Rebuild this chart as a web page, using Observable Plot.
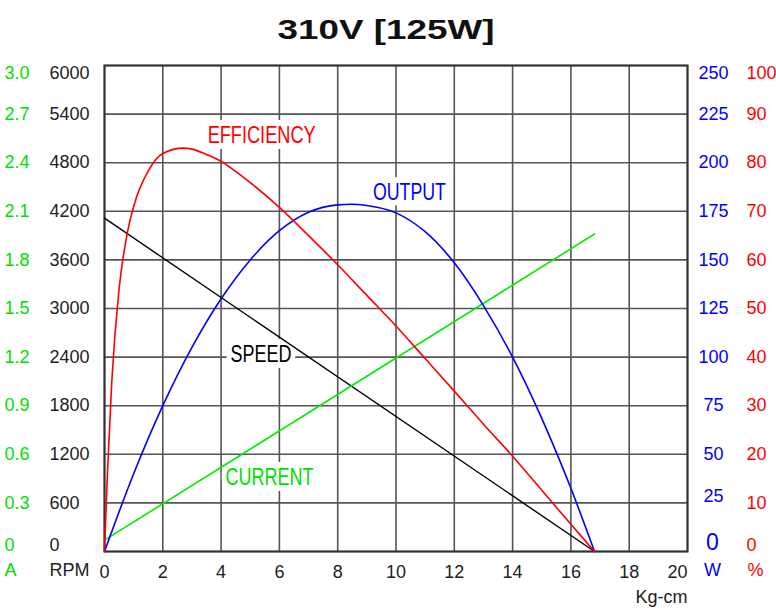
<!DOCTYPE html>
<html><head><meta charset="utf-8">
<script src="https://cdn.jsdelivr.net/npm/d3@7"></script>
<script src="https://cdn.jsdelivr.net/npm/@observablehq/plot@0.6"></script>
<style>body{margin:0;background:#fff} svg{display:block}</style>
</head><body><div id="chart"></div>
<script>
// ---- data ----
const title = "310V [125W]";
const torqueTicks = [0, 2, 4, 6, 8, 10, 12, 14, 16, 18, 20];
const rpmTicks = [0, 600, 1200, 1800, 2400, 3000, 3600, 4200, 4800, 5400, 6000];
const ampTicks = [0, 0.3, 0.6, 0.9, 1.2, 1.5, 1.8, 2.1, 2.4, 2.7, 3.0];
const wattTicks = [0, 25, 50, 75, 100, 125, 150, 175, 200, 225, 250];
const pctTicks = [0, 10, 20, 30, 40, 50, 60, 70, 80, 90, 100];

const speedTorque = [0, 16.81];
const speedRPM = [4115, 0];
const currentTorque = [0, 16.81];
const currentA = [0.07, 1.96];
const effTorque = [0, 0.1, 0.25, 0.5, 0.75, 1, 1.5, 2, 2.7, 3, 3.5, 4, 4.5, 5, 6, 7, 8, 9, 10, 11, 12, 13, 14, 15, 16, 16.81];
const effPct =    [0, 16,  35,   54,  64.5, 71, 78.3, 81.9, 83, 82.8, 81.7, 80.3, 78.2, 75.9, 70.8, 65.0, 59.0, 52.7, 46.4, 39.7, 33.0, 26.2, 19.6, 12.6, 5.6, 0];
const outTorque = [0, 1, 2, 3, 4, 5, 6, 7, 8, 8.45, 9, 10, 11, 12, 13, 14, 15, 16, 16.81];
const outW =      [0, 40, 75, 105, 130, 150, 165, 174.5, 178.3, 178.6, 178, 174.2, 164.5, 148.5, 126.5, 100, 68.5, 32.5, 0];

const labelText = ["EFFICIENCY", "OUTPUT", "SPEED", "CURRENT"];
const labelTorque = [5.39, 10.46, 5.37, 5.66];
const labelValue = [85.6, 184.7, 2432, 0.457]; // in each curve's own unit

// ---- unit conversions onto the RPM (0–6000) plotting scale ----
const fromA = a => a * 6000 / 3;
const fromW = w => w * 6000 / 250;
const fromPct = p => p * 6000 / 100;

const RED = "#ff0000", BLUE = "#0000ff", GREEN = "#00e000", GREENLINE = "#00ee00", INK = "#222";
const FONT = "Liberation Sans, Arial, Helvetica, sans-serif";

const zip = (xs, ys, f) => xs.map((x, i) => ({x, y: f(ys[i])}));
const speedData = zip(speedTorque, speedRPM, d => d);
const currentData = zip(currentTorque, currentA, fromA);
const effData = zip(effTorque, effPct, fromPct);
const outData = zip(outTorque, outW, fromW);

const labelColors = [RED, BLUE, "#000", GREEN];
const labelConv = [fromPct, fromW, d => d, fromA];
const labels = labelText.map((t, i) => ({text: t, x: labelTorque[i], y: labelConv[i](labelValue[i]), color: labelColors[i]}));

// tick label helper: ends are kept inside the frame
function tickText(values, conv, fmt, opts) {
  const max = d3.max(values), min = d3.min(values);
  const base = {y: d => conv(d), text: fmt, fontSize: 18, fontFamily: FONT, ...opts};
  return [
    Plot.text(values.filter(v => v !== max && v !== min), {...base, lineAnchor: "middle"}),
    Plot.text([max], {...base, lineAnchor: "top", dy: 1}),
    Plot.text([min], {...base, lineAnchor: "bottom", dy: -1})
  ];
}

const svg = Plot.plot({
  width: 776,
  height: 611,
  marginLeft: 104,
  marginRight: 89,
  marginTop: 65,
  marginBottom: 60,
  style: {background: "#fff", overflow: "visible"},
  x: {domain: [0, 20], axis: null},
  y: {domain: [0, 6000], axis: null},
  marks: [
    Plot.ruleX(torqueTicks, {x: d => d, stroke: "#555", strokeWidth: 1.6}),
    Plot.ruleY(rpmTicks, {y: d => d, stroke: "#555", strokeWidth: 1.6}),
    Plot.frame({stroke: "#333", strokeWidth: 2}),
    // curve labels with white backing
    Plot.text(labels, {x: "x", y: "y", text: "text", fill: "color", stroke: "white", strokeWidth: 12,
      fontSize: 23, fontFamily: FONT}),
    // curves
    Plot.line(speedData, {x: "x", y: "y", stroke: "#000", strokeWidth: 1.4}),
    Plot.line(currentData, {x: "x", y: "y", stroke: GREENLINE, strokeWidth: 1.6}),
    Plot.line(outData, {x: "x", y: "y", stroke: BLUE, strokeWidth: 1.6, curve: "monotone-x"}),
    Plot.line(effData, {x: "x", y: "y", stroke: RED, strokeWidth: 1.6, curve: "monotone-x"}),
    // left axes
    ...tickText(ampTicks, fromA, d => d === 0 ? "0" : d.toFixed(1), {frameAnchor: "left", dx: -100, textAnchor: "start", fill: GREEN}),
    ...tickText(rpmTicks, d => d, d => String(d), {frameAnchor: "left", dx: -55, textAnchor: "start", fill: INK}),
    // right axes
    ...tickText(wattTicks.filter(d => d !== 0), fromW, d => String(d), {frameAnchor: "right", dx: 26, textAnchor: "middle", fill: BLUE}),
    Plot.text([0], {y: d => fromW(d), text: d => String(d), frameAnchor: "right", dx: 25, dy: -2, textAnchor: "middle",
      lineAnchor: "bottom", fill: BLUE, fontSize: 23, fontFamily: FONT}),
    ...tickText(pctTicks, fromPct, d => String(d), {frameAnchor: "right", dx: 59, textAnchor: "start", fill: RED}),
    // x tick labels
    Plot.text(torqueTicks.filter(d => d !== 20), {x: d => d, text: d => String(d), frameAnchor: "bottom", dy: 21,
      lineAnchor: "middle", fontSize: 18, fontFamily: FONT, fill: INK}),
    Plot.text([20], {x: d => d, text: d => String(d), frameAnchor: "bottom", dy: 21, textAnchor: "end",
      lineAnchor: "middle", fontSize: 18, fontFamily: FONT, fill: INK}),
    // unit labels
    Plot.text(["A"], {text: d => d, frameAnchor: "bottom-left", dx: -100, dy: 19, textAnchor: "start", lineAnchor: "middle", fontSize: 18, fontFamily: FONT, fill: GREEN}),
    Plot.text(["RPM"], {text: d => d, frameAnchor: "bottom-left", dx: -55, dy: 19, textAnchor: "start", lineAnchor: "middle", fontSize: 18, fontFamily: FONT, fill: INK}),
    Plot.text(["W"], {text: d => d, frameAnchor: "bottom-right", dx: 25, dy: 19, textAnchor: "middle", lineAnchor: "middle", fontSize: 18, fontFamily: FONT, fill: BLUE}),
    Plot.text(["%"], {text: d => d, frameAnchor: "bottom-right", dx: 60, dy: 19, textAnchor: "start", lineAnchor: "middle", fontSize: 18, fontFamily: FONT, fill: RED}),
    Plot.text(["Kg-cm"], {text: d => d, frameAnchor: "bottom-right", dx: 0, dy: 46, textAnchor: "end", lineAnchor: "middle", fontSize: 18, fontFamily: FONT, fill: INK}),
    // title
    Plot.text([title], {text: d => d, frameAnchor: "top", dx: -10, dy: -35, lineAnchor: "middle", fontSize: 27,
      fontWeight: "bold", fontFamily: FONT, fill: "#111"})
  ]
});

const lens = {"EFFICIENCY": 108, "OUTPUT": 73, "SPEED": 61, "CURRENT": 88, [title]: 217};
d3.select(svg).selectAll("text").each(function () {
  const t = this.textContent;
  if (lens[t]) {
    this.setAttribute("textLength", lens[t]);
    this.setAttribute("lengthAdjust", "spacingAndGlyphs");
  }
});
document.getElementById("chart").appendChild(svg);
</script>
</body></html>
